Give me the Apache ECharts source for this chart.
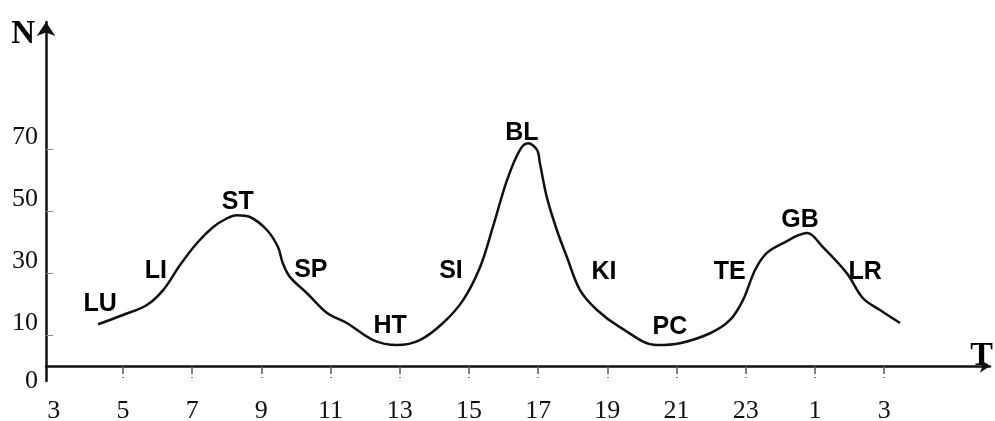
<!DOCTYPE html>
<html>
<head>
    <meta charset="utf-8">
    <title>N over T</title>
    <style>
        html, body { margin: 0; padding: 0; background: #fff; }
        #main { width: 995px; height: 421px; }
    </style>
</head>
<body>
    <div id="main"></div>
    <script src="https://cdn.jsdelivr.net/npm/echarts@6/dist/echarts.min.js"></script>
    <script>
        // hours on the T axis (past midnight written as 24+)
        var curveT = [4.28, 5.0, 5.69, 6.16, 6.65, 7.14, 7.60, 8.01, 8.29, 8.67, 9.16, 9.48, 9.62, 9.83,
            10.32, 10.90, 11.47, 12.23, 12.92, 13.58, 14.25, 14.83, 15.32, 15.69, 16.10, 16.47, 16.71,
            16.97, 17.05, 17.25, 17.54, 17.83, 18.21, 18.70, 19.36, 20.43, 21.10, 21.97, 22.54, 22.92, 23.27,
            23.61, 24.08, 24.77, 25.23, 25.92, 26.39, 26.88, 27.46];
        var curveN = [13.5, 16.5, 19.7, 24.5, 32.6, 39.7, 44.8, 47.7, 48.7, 48.1, 43.9, 38.4, 33.2, 28.7,
            23.5, 17.1, 13.9, 8.4, 6.8, 8.4, 13.9, 21.3, 31.9, 44.8, 60.0, 69.7, 71.9,
            69.7, 65.5, 54.5, 43.9, 35.2, 24.5, 18.1, 12.6, 6.8, 7.4, 10.6, 14.8, 21.3, 31.0,
            36.5, 39.7, 42.9, 38.4, 30.0, 21.9, 18.1, 13.9];

        var stageNames = ['LU', 'LI', 'ST', 'SP', 'HT', 'SI', 'BL', 'KI', 'PC', 'TE', 'GB', 'LR'];
        var stageT = [4.34, 5.95, 8.32, 10.43, 12.72, 14.48, 16.53, 18.90, 20.81, 22.54, 24.57, 26.45];
        var stageN = [20.0, 30.6, 52.9, 31.0, 12.9, 30.6, 75.0, 30.3, 12.6, 30.3, 47.0, 30.3];

        var tTicks = [3, 5, 7, 9, 11, 13, 15, 17, 19, 21, 23, 25, 27];
        var nTicks = [10, 30, 50, 70];

        var T_MIN = 2.775, T_MAX = 30.06;
        var N_MIN = -4.8, N_MAX = 111;

        var curve = curveT.map(function (t, i) { return [t, curveN[i]]; });
        var stages = stageNames.map(function (name, i) {
            return { name: name, value: [stageT[i], stageN[i]] };
        });

        var serif = '"Liberation Serif", "DejaVu Serif", serif';
        var sans = '"Liberation Sans", Arial, sans-serif';

        var chart = echarts.init(document.getElementById('main'));
        chart.setOption({
            animation: false,
            backgroundColor: '#fff',
            grid: { left: 46, right: 5, top: 22, bottom: 40, outerBoundsMode: 'none' },
            xAxis: {
                type: 'value',
                min: T_MIN,
                max: T_MAX,
                name: '{t|T}',
                nameLocation: 'end',
                nameGap: 3,
                nameTextStyle: {
                    align: 'right',
                    verticalAlign: 'middle',
                    rich: {
                        t: {
                            fontFamily: serif, fontWeight: 'bold', fontSize: 34, color: '#000',
                            padding: [0, 0, 20, 0]
                        }
                    }
                },
                axisLine: {
                    lineStyle: { color: '#111', width: 2.5 },
                    symbol: ['none', 'arrow'],
                    symbolSize: [10, 10]
                },
                axisTick: {
                    show: true,
                    length: 12,
                    customValues: tTicks.slice(1),
                    lineStyle: { color: '#555', width: 1.5, type: [8, 3] }
                },
                axisLabel: {
                    customValues: tTicks,
                    margin: 17,
                    fontFamily: serif,
                    fontSize: 26,
                    color: '#111',
                    formatter: function (v) { return String(v > 24 ? v - 24 : v); }
                },
                splitLine: { show: false }
            },
            yAxis: {
                type: 'value',
                min: N_MIN,
                max: N_MAX,
                name: 'N',
                nameLocation: 'end',
                nameGap: -12,
                nameTextStyle: {
                    fontFamily: serif, fontWeight: 'bold', fontSize: 33, color: '#000',
                    align: 'right', verticalAlign: 'middle', padding: [0, 11, 0, 0]
                },
                axisLine: {
                    show: true,
                    lineStyle: { color: '#111', width: 2.5 },
                    symbol: ['none', 'arrow'],
                    symbolSize: [14, 14]
                },
                axisTick: {
                    show: true,
                    inside: true,
                    length: 7,
                    customValues: nTicks,
                    lineStyle: { color: '#888', width: 1 }
                },
                axisLabel: {
                    customValues: [N_MIN].concat(nTicks),
                    margin: 8,
                    fontFamily: serif,
                    fontSize: 26,
                    color: '#111',
                    verticalAlign: 'middle',
                    formatter: function (v) {
                        return v <= 0 ? '0' : '{up|' + v + '}';
                    },
                    rich: {
                        up: { fontFamily: serif, fontSize: 26, color: '#111', padding: [0, 0, 24, 0] }
                    }
                },
                splitLine: { show: false }
            },
            series: [
                {
                    type: 'line',
                    data: curve,
                    smooth: 0.35,
                    symbol: 'none',
                    lineStyle: { color: '#111', width: 2.5 }
                },
                {
                    type: 'scatter',
                    data: stages,
                    symbolSize: 0.1,
                    itemStyle: { color: '#fff', opacity: 1 },
                    label: {
                        show: true,
                        position: 'inside',
                        formatter: '{b}',
                        fontFamily: sans,
                        fontWeight: 'bold',
                        fontSize: 25,
                        color: '#000'
                    }
                }
            ]
        });
    </script>
</body>
</html>
